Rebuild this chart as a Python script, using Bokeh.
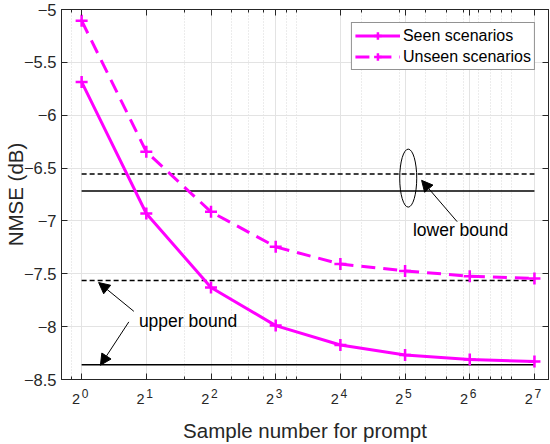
from bokeh.plotting import figure
from bokeh.models import (Range1d, FixedTicker, LinearAxis, LogAxis, Legend, LegendItem,
                          Arrow, NormalHead, Label, ColumnDataSource)
from bokeh.embed import file_html
from bokeh.resources import INLINE

# ---- data ----
samples = [1, 2, 4, 8, 16, 32, 64, 128]
seen_nmse = [-5.685, -6.93, -7.63, -7.99, -8.174, -8.268, -8.31, -8.33]
unseen_nmse = [-5.106, -6.345, -6.914, -7.245, -7.408, -7.473, -7.523, -7.545]
lower_bound_unseen = -6.557
lower_bound_seen = -6.717
upper_bound_unseen = -7.564
upper_bound_seen = -8.36
x_tick_base = "2"
x_tick_exps = ["0", "1", "2", "3", "4", "5", "6", "7"]
y_ticks = [-8.5, -8, -7.5, -7, -6.5, -6, -5.5, -5]
x_minor = [0.9, 3, 5, 6, 7, 9, 10, 20, 30, 40, 50, 60, 70, 80, 90, 100]

FONT = "Liberation Sans"
AX = "#262626"
MAG = "#ff00ff"
Y0, Y1 = -8.5, -5

p = figure(width=550, height=444, x_axis_type="log",
           x_range=Range1d(0.806, 148.8), y_range=Range1d(Y0, Y1),
           output_backend="svg", toolbar_location=None,
           min_border_left=60, min_border_right=2, min_border_top=9, min_border_bottom=60)
p.outline_line_color = AX
p.outline_line_width = 1
p.background_fill_color = "white"
p.border_fill_color = "white"

xt = FixedTicker(ticks=samples, minor_ticks=x_minor)
yt = FixedTicker(ticks=y_ticks)

xa = p.xaxis[0]
xa.ticker = xt
xa.major_label_overrides = {s: "" for s in samples}
ya = p.yaxis[0]
ya.ticker = yt
ya.axis_label = "NMSE (dB)"

for a in (xa, ya):
    a.axis_line_color = AX
    a.major_tick_line_color = AX
    a.minor_tick_line_color = AX
    a.major_tick_in = 6
    a.major_tick_out = 0
    a.minor_tick_in = 3
    a.minor_tick_out = 0
    a.major_label_text_font = FONT
    a.major_label_text_font_size = "16.5px"
    a.major_label_text_color = AX
    a.axis_label_text_font = FONT
    a.axis_label_text_font_size = "20.5px"
    a.axis_label_text_font_style = "normal"
    a.axis_label_text_color = AX
xa.major_label_standoff = 0
ya.major_label_standoff = 5
ya.axis_label_standoff = -6
ya.minor_tick_line_color = None

# x tick labels: exponent row (raised, right of tick) and base row ("2", left of tick)
exp_shift = 2 ** 0.052
base_shift = 2 ** -0.088
exp_ticks = [s * exp_shift for s in samples]
base_ticks = [s * base_shift for s in samples]
ea = LogAxis(ticker=FixedTicker(ticks=exp_ticks),
             major_label_overrides={t: e for t, e in zip(exp_ticks, x_tick_exps)},
             axis_line_color=None, major_tick_line_color=None, minor_tick_line_color=None,
             major_tick_in=0, major_tick_out=0, minor_tick_in=0, minor_tick_out=0,
             major_label_text_font=FONT, major_label_text_font_size="12px",
             major_label_text_color=AX, major_label_standoff=9)
ba = LogAxis(ticker=FixedTicker(ticks=base_ticks),
             major_label_overrides={t: x_tick_base for t in base_ticks},
             axis_line_color=None, major_tick_line_color=None, minor_tick_line_color=None,
             major_tick_in=0, major_tick_out=0, minor_tick_in=0, minor_tick_out=0,
             major_label_text_font=FONT, major_label_text_font_size="14.5px",
             major_label_text_color=AX, major_label_standoff=-7,
             axis_label="Sample number for prompt", axis_label_text_font=FONT,
             axis_label_text_font_size="20.5px", axis_label_text_font_style="normal",
             axis_label_text_color=AX, axis_label_standoff=12)
p.add_layout(ea, "below")
p.add_layout(ba, "below")

top = LogAxis(ticker=xt, major_label_text_font_size="0px", major_label_text_color=None,
              major_label_standoff=0,
              axis_line_color=AX, major_tick_line_color=AX, minor_tick_line_color=AX,
              major_tick_in=6, major_tick_out=0, minor_tick_in=3, minor_tick_out=0)
right = LinearAxis(ticker=yt, major_label_text_font_size="0px", major_label_text_color=None,
                   major_label_standoff=0,
                   axis_line_color=AX, major_tick_line_color=AX, minor_tick_line_color=None,
                   major_tick_in=6, major_tick_out=0)
p.add_layout(top, "above")
p.add_layout(right, "right")

p.xgrid.ticker = xt
p.xgrid.grid_line_color = "#e3e3e3"
p.xgrid.minor_grid_line_color = "#d9d9d9"
p.xgrid.minor_grid_line_dash = "1 2"
p.ygrid.grid_line_color = "#e3e3e3"

# bounds
xb = [samples[0], samples[-1]]
p.line(xb, [lower_bound_unseen] * 2, line_color="black", line_width=1.5, line_dash="5 3")
p.line(xb, [lower_bound_seen] * 2, line_color="black", line_width=1.5)
p.line(xb, [upper_bound_unseen] * 2, line_color="black", line_width=1.5, line_dash="5 3")
p.line(xb, [upper_bound_seen] * 2, line_color="black", line_width=1.5)

src = ColumnDataSource(dict(x=samples, seen=seen_nmse, unseen=unseen_nmse))
l1 = p.line("x", "seen", source=src, line_color=MAG, line_width=3)
m1 = p.scatter("x", "seen", source=src, marker="cross", size=12, line_color=MAG, line_width=2.5)
l2 = p.line("x", "unseen", source=src, line_color=MAG, line_width=3, line_dash="14 8")
m2 = p.scatter("x", "unseen", source=src, marker="cross", size=12, line_color=MAG, line_width=2.5)

# annotations
p.ellipse(x=[33.1], y=[-6.595], width=17, height=58, width_units="screen", height_units="screen",
          fill_color=None, line_color="black", line_width=1)
p.add_layout(Arrow(x_start=55.9, y_start=-7.007, x_end=38.2, y_end=-6.616, line_width=1,
                   end=NormalHead(size=11, fill_color="black", line_color="black")))
p.add_layout(Arrow(x_start=1.75, y_start=-7.855, x_end=1.2, y_end=-7.583, line_width=1,
                   end=NormalHead(size=11, fill_color="black", line_color="black")))
p.add_layout(Arrow(x_start=1.658, y_start=-7.955, x_end=1.223, y_end=-8.365, line_width=1,
                   end=NormalHead(size=11, fill_color="black", line_color="black")))
p.add_layout(Label(x=34.8, y=-7.09, text="lower bound", text_font=FONT, text_font_size="17.5px",
                   text_baseline="middle", text_color="black"))
p.add_layout(Label(x=1.847, y=-7.945, text="upper bound", text_font=FONT, text_font_size="17.5px",
                   text_baseline="middle", text_color="black"))

legend = Legend(items=[LegendItem(label="Seen scenarios", renderers=[l1, m1]),
                       LegendItem(label="Unseen scenarios", renderers=[l2, m2])],
                location="top_right")
legend.label_text_font = FONT
legend.label_text_font_size = "16px"
legend.label_text_color = "black"
legend.glyph_width = 45
legend.glyph_height = 19
legend.label_height = 19
legend.label_standoff = 3
legend.spacing = 2
legend.padding = 3
legend.margin = 13
legend.border_line_color = AX
legend.border_line_width = 1
legend.background_fill_alpha = 1
p.add_layout(legend)

open("out.html", "w").write(file_html(p, INLINE))
